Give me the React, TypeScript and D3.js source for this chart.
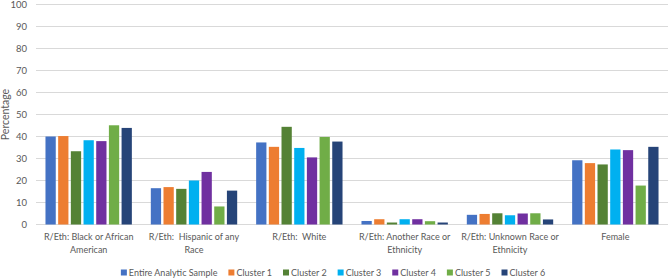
import { useRef, useEffect } from 'react'
import * as d3 from 'd3'

const categories = [
  'R/Eth: Black or African American',
  'R/Eth:  Hispanic of any Race',
  'R/Eth:  White',
  'R/Eth: Another Race or Ethnicity',
  'R/Eth: Unknown Race or Ethnicity',
  'Female',
]
// wrapped lines as they appear under the axis
const categoryLines = [
  ['R/Eth: Black or African', 'American'],
  ['R/Eth:  Hispanic of any', 'Race'],
  ['R/Eth:  White'],
  ['R/Eth: Another Race or', 'Ethnicity'],
  ['R/Eth: Unknown Race or', 'Ethnicity'],
  ['Female'],
]

const seriesNames = ['Entire Analytic Sample', 'Cluster 1', 'Cluster 2', 'Cluster 3', 'Cluster 4', 'Cluster 5', 'Cluster 6']
const seriesColors = ['#4472C4', '#ED7D31', '#548235', '#00B0F0', '#7030A0', '#70AD47', '#264478']

const entireSample = [40.0, 16.5, 37.3, 1.6, 4.4, 29.2]
const cluster1 = [40.2, 17.0, 35.3, 2.4, 4.8, 27.9]
const cluster2 = [33.3, 16.2, 44.4, 0.9, 5.1, 27.3]
const cluster3 = [38.3, 20.0, 34.8, 2.4, 4.2, 34.1]
const cluster4 = [37.9, 23.9, 30.5, 2.4, 5.0, 33.8]
const cluster5 = [45.1, 8.2, 39.8, 1.5, 5.1, 17.7]
const cluster6 = [43.9, 15.4, 37.7, 0.9, 2.3, 35.3]

const seriesValues = [entireSample, cluster1, cluster2, cluster3, cluster4, cluster5, cluster6]
const yTicks = [0, 10, 20, 30, 40, 50, 60, 70, 80, 90, 100]

const FONT = 'Lato, "Open Sans", sans-serif'
const TEXT = '#595959'

export default function App() {
  const svgRef = useRef<SVGSVGElement>(null)

  useEffect(() => {
    if (!svgRef.current) return
    const svg = d3.select(svgRef.current)
    svg.selectAll('*').remove()

    const width = 669
    const height = 278
    const left = 36
    const right = 668
    const top = 4.5
    const bottom = 224.5

    svg.attr('width', width).attr('height', height)

    const x = d3.scaleBand<string>().domain(categories).range([left, right]).paddingInner(0.18).paddingOuter(0.09)
    const xs = d3.scaleBand<string>().domain(seriesNames).range([0, x.bandwidth()]).paddingInner(0.19)
    const y = d3.scaleLinear().domain([0, 100]).range([bottom, top])

    // Grid lines
    svg.append('g')
      .selectAll('line')
      .data(yTicks)
      .enter()
      .append('line')
      .attr('x1', left)
      .attr('x2', right)
      .attr('y1', (d) => y(d))
      .attr('y2', (d) => y(d))
      .attr('stroke', '#d9d9d9')
      .attr('stroke-width', 1)

    // Y axis labels
    svg.append('g')
      .attr('transform', `translate(${left},0)`)
      .call(d3.axisLeft(y).tickValues(yTicks).tickSize(0).tickPadding(9))
      .call((g) => g.select('.domain').remove())
      .selectAll('text')
      .attr('fill', TEXT)
      .attr('font-size', '9.5px')
      .attr('font-family', FONT)

    svg.append('text')
      .attr('transform', `translate(9,${(top + bottom) / 2}) rotate(-90)`)
      .attr('text-anchor', 'middle')
      .attr('fill', TEXT)
      .attr('font-size', '10.5px')
      .attr('font-family', FONT)
      .text('Percentage')

    // Bars
    seriesNames.forEach((name, si) => {
      svg.append('g')
        .selectAll('rect')
        .data(seriesValues[si])
        .enter()
        .append('rect')
        .attr('x', (_, i) => (x(categories[i]) ?? 0) + (xs(name) ?? 0))
        .attr('y', (d) => y(d))
        .attr('width', xs.bandwidth())
        .attr('height', (d) => bottom - y(d))
        .attr('fill', seriesColors[si])
    })

    // Category labels
    categories.forEach((c, i) => {
      const t = svg.append('text')
        .attr('text-anchor', 'middle')
        .attr('fill', TEXT)
        .attr('font-size', '9px')
        .attr('font-family', FONT)
      categoryLines[i].forEach((line, li) => {
        t.append('tspan')
          .attr('x', (x(c) ?? 0) + x.bandwidth() / 2)
          .attr('y', 240 + li * 12.5)
          .style('white-space', 'pre')
          .text(line)
      })
    })

    // Legend
    const legend = svg.append('g')
    const items = seriesNames.map((name, i) => {
      const g = legend.append('g')
      g.append('rect').attr('width', 6).attr('height', 6).attr('y', -6.5).attr('fill', seriesColors[i])
      const t = g.append('text')
        .attr('x', 8)
        .attr('fill', TEXT)
        .attr('font-size', '9px')
        .attr('font-family', FONT)
        .text(name)
      return { g, w: 8 + (t.node() as SVGTextElement).getComputedTextLength() }
    })
    const gap = 11
    const total = d3.sum(items, (d) => d.w) + gap * (items.length - 1)
    let cx = 333 - total / 2
    items.forEach((it) => {
      it.g.attr('transform', `translate(${cx},276)`)
      cx += it.w + gap
    })
  }, [])

  return (
    <div>
      <style>{'body{margin:0;background:#fff}'}</style>
      <svg ref={svgRef} style={{ display: 'block' }} />
    </div>
  )
}
